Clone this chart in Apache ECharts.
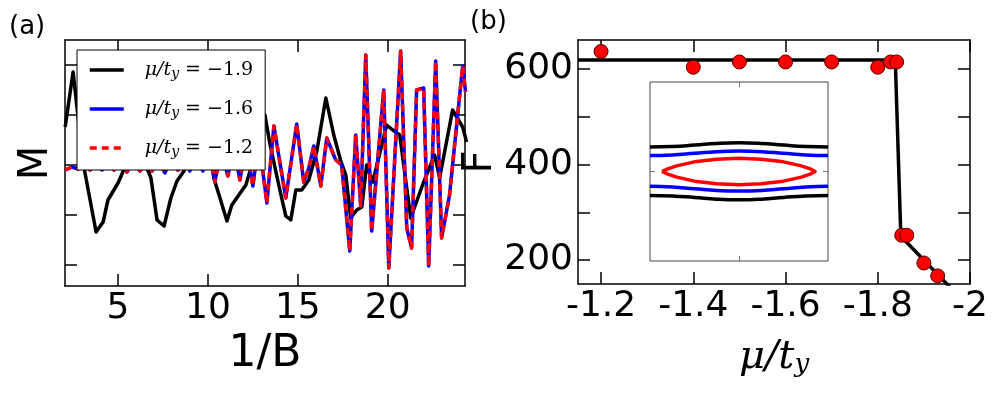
<!DOCTYPE html>
<html>
<head>
<meta charset="utf-8">
<title>M versus 1/B and frequency F versus mu/t_y</title>
<script src="https://cdn.jsdelivr.net/npm/echarts@6.0.0/dist/echarts.min.js"></script>
<style>
  html, body { margin: 0; padding: 0; background: #fff; }
  #chart { width: 1000px; height: 400px; }
</style>
</head>
<body>
<div id="chart"></div>
<script>
// ---- panel (a): oscillations of M against 1/B ----
const invBBlack = [2.06, 2.50, 3.06, 3.78, 4.17, 4.44, 5.00, 5.39, 5.78, 6.17, 6.61, 6.83, 7.17, 7.56,
    7.94, 8.28, 8.67, 9.00, 9.56, 10.11, 10.33, 11.06, 11.33, 11.72, 12.11, 12.39, 12.78, 13.17, 13.44,
    13.94, 14.33, 14.61, 14.89, 15.22, 15.61, 16.06, 16.56, 17.00, 17.39, 17.67, 17.94, 18.28, 18.56,
    18.83, 19.17, 19.94, 20.28, 20.67, 21.28, 22.00, 22.61, 22.89, 23.61, 24.17, 24.39];
const mBlack = [0.76, 1.86, 0.04, -1.34, -1.14, -0.70, -0.36, -0.04, 1.10, 1.80, -0.06, -0.26, -1.10, -1.22,
    -0.66, -0.32, -0.12, 0.70, 1.60, 0.30, -0.26, -1.12, -0.80, -0.60, -0.40, -0.06, 0.80, 1.00, 0.44,
    -0.40, -1.02, -1.10, -0.50, -0.50, -0.30, 0.28, 1.34, 0.60, 0.08, -0.20, -1.06, -0.90, -0.84,
    0.00, -0.34, 0.80, 0.70, 0.60, -1.06, -0.34, 0.20, -0.26, 1.10, 0.76, 0.46];

const invBBlue = [2.06, 2.44, 2.78, 3.11, 3.44, 3.78, 4.11, 4.44, 4.78, 5.11, 5.50, 5.83, 6.22, 6.56, 6.89,
    7.22, 7.61, 7.94, 8.33, 8.67, 9.00, 9.33, 9.72, 10.06, 10.39, 10.72, 11.11, 11.44, 11.78, 12.11, 12.50,
    12.83, 13.28, 13.67, 14.33, 14.94, 15.33, 15.61, 15.89, 16.28, 16.61, 17.11, 17.44, 17.89, 18.22,
    18.50, 18.78, 19.11, 19.78, 20.06, 20.72, 21.06, 21.33, 21.61, 22.00, 22.28, 22.67, 23.00, 23.44,
    24.17, 24.33];
const mBlue = [-0.10, -0.04, -0.08, 0.00, -0.10, 0.02, -0.10, 0.04, -0.10, 0.06, -0.14, 0.08, -0.12, 0.10, -0.12,
    0.12, -0.16, 0.14, -0.10, 0.18, -0.12, 0.20, -0.12, 0.30, -0.34, 0.30, -0.22, 0.34, -0.30, 0.40, -0.42,
    0.50, -0.76, 0.78, -0.66, 0.82, -0.34, -0.06, 0.38, -0.42, 0.54, 0.10, 0.00, -1.72, 0.60,
    -0.82, 2.20, -1.32, 1.50, -2.06, 2.28, -1.26, -1.66, 1.50, 1.54, -2.02, 2.08, -1.46, -0.60,
    1.98, 1.46];
// the -1.2 curve lies on top of the -1.6 one
const mRed = [-0.10, -0.04, -0.08, 0.00, -0.10, 0.02, -0.10, 0.04, -0.10, 0.06, -0.14, 0.08, -0.12, 0.10, -0.12,
    0.12, -0.16, 0.14, -0.10, 0.18, -0.12, 0.20, -0.12, 0.30, -0.34, 0.30, -0.22, 0.34, -0.30, 0.40, -0.42,
    0.50, -0.76, 0.78, -0.66, 0.82, -0.34, -0.06, 0.38, -0.42, 0.54, 0.10, 0.00, -1.72, 0.60,
    -0.82, 2.20, -1.32, 1.50, -2.06, 2.28, -1.26, -1.66, 1.50, 1.54, -2.02, 2.08, -1.46, -0.60,
    1.98, 1.46];

const legendNames = ['μ/t_y = −1.9', 'μ/t_y = −1.6', 'μ/t_y = −1.2'];

// ---- panel (b): frequency F against mu/t_y ----
const muPoints = [-1.2, -1.4, -1.5, -1.6, -1.7, -1.8, -1.828, -1.841, -1.852, -1.863, -1.90, -1.93];
const fPoints = [637, 604, 615, 615, 615, 604, 615, 615, 252, 252, 194, 167];
const muFit = [-1.15, -1.838, -1.85, -1.96];
const fFit = [619, 619, 250, 140];

// ---- inset: Fermi surface contours ----
const insetX = [-1, -0.75, -0.5, -0.25, 0, 0.25, 0.5, 0.75, 1];
const blackTopY = [0.275, 0.28, 0.295, 0.313, 0.32, 0.313, 0.295, 0.28, 0.275];
const blueTopY = [0.178, 0.185, 0.203, 0.222, 0.228, 0.222, 0.203, 0.185, 0.178];
const blueBotY = [-0.166, -0.174, -0.193, -0.211, -0.217, -0.211, -0.193, -0.174, -0.166];
const blackBotY = [-0.267, -0.273, -0.29, -0.309, -0.316, -0.309, -0.29, -0.273, -0.267];
const redX = [-0.865, -0.8, -0.7, -0.5, -0.25, 0, 0.25, 0.5, 0.7, 0.8, 0.855,
    0.8, 0.7, 0.5, 0.25, 0, -0.25, -0.5, -0.7, -0.8, -0.865];
const redY = [0, 0.03, 0.063, 0.108, 0.138, 0.148, 0.138, 0.108, 0.063, 0.03, 0,
    -0.03, -0.063, -0.108, -0.138, -0.148, -0.138, -0.108, -0.063, -0.03, 0];

// ticks and labels
const xTicksA = [5, 10, 15, 20];
const yTicksA = [-2, -1, 0, 1, 2];
const xTicksB = [-2, -1.8, -1.6, -1.4, -1.2];
const yTicksB = [200, 300, 400, 500, 600];
const yLabelsB = [200, 400, 600];

const pairs = (xs, ys) => xs.map((x, i) => [x, ys[i]]);

const labelFont = { fontFamily: 'DejaVu Sans', fontSize: 36, color: '#000' };
const nameFont = { fontFamily: 'DejaVu Sans', fontSize: 40, color: '#000' };

// framed axis with matplotlib style inside ticks
function frameAxis(gridIndex, position, min, max, ticks, labels, more) {
    return Object.assign({
        type: 'value',
        gridIndex: gridIndex,
        position: position,
        min: min,
        max: max,
        axisLine: { show: true, onZero: false, lineStyle: { color: '#000', width: 1.5 } },
        axisTick: { show: true, inside: true, length: 12, customValues: ticks,
            lineStyle: { color: '#000', width: 1.5 } },
        axisLabel: labels ? Object.assign({ show: true, customValues: labels, margin: 5 }, labelFont)
                          : { show: false },
        splitLine: { show: false }
    }, more || {});
}

function insetAxis(position) {
    return {
        type: 'value', gridIndex: 2, position: position, min: -1, max: 1,
        axisLine: { show: false, onZero: false },
        axisTick: { show: true, inside: true, length: 5, customValues: [0],
            lineStyle: { color: '#777', width: 1 } },
        axisLabel: { show: false },
        splitLine: { show: false }
    };
}

function curve(name, xs, ys, color, xi, yi, extra) {
    return Object.assign({
        name: name, type: 'line', xAxisIndex: xi, yAxisIndex: yi,
        data: pairs(xs, ys), symbol: 'none', showSymbol: false,
        lineStyle: { color: color, width: 3.5, join: 'round' },
        itemStyle: { color: color },
        z: 2
    }, extra || {});
}

const chart = echarts.init(document.getElementById('chart'));

const option = {
    animation: false,
    backgroundColor: '#fff',
    grid: [
        { left: 65, top: 40, width: 400, height: 246 },
        { left: 578, top: 40, width: 392, height: 244 },
        { left: 650, top: 82, width: 178, height: 179, show: true,
          backgroundColor: '#fff', borderColor: '#444', borderWidth: 1 }
    ],
    xAxis: [
        frameAxis(0, 'bottom', 2.05, 24.3, xTicksA, xTicksA, {
            name: '1/B', nameLocation: 'middle', nameGap: 47,
            nameTextStyle: { fontFamily: 'DejaVu Sans', fontSize: 44, color: '#000' }
        }),
        frameAxis(0, 'top', 2.05, 24.3, xTicksA, null),
        frameAxis(1, 'bottom', -2, -1.15, xTicksB, xTicksB, {
            inverse: true,
            name: '{i|μ/t}{s|y}', nameLocation: 'middle', nameGap: 54,
            nameTextStyle: {
                fontSize: 40, color: '#000',
                rich: {
                    i: { fontFamily: 'DejaVu Serif', fontStyle: 'italic', fontSize: 40, color: '#000' },
                    s: { fontFamily: 'DejaVu Serif', fontStyle: 'italic', fontSize: 26, color: '#000',
                         verticalAlign: 'bottom' }
                }
            }
        }),
        frameAxis(1, 'top', -2, -1.15, xTicksB, null, { inverse: true }),
        insetAxis('bottom'),
        insetAxis('top')
    ],
    yAxis: [
        frameAxis(0, 'left', -2.42, 2.5, yTicksA, null, {
            name: 'M', nameLocation: 'middle', nameGap: 8, nameRotate: 90, nameTextStyle: nameFont
        }),
        frameAxis(0, 'right', -2.42, 2.5, yTicksA, null),
        frameAxis(1, 'left', 150, 661, yTicksB, yLabelsB, {
            name: 'F', nameLocation: 'middle', nameGap: 69, nameRotate: 90, nameTextStyle: nameFont
        }),
        frameAxis(1, 'right', 150, 661, yTicksB, null),
        insetAxis('left'),
        insetAxis('right')
    ],
    legend: {
        data: legendNames,
        left: 77,
        top: 50,
        orient: 'vertical',
        backgroundColor: '#fff',
        borderColor: '#000',
        borderWidth: 1,
        borderRadius: 0,
        padding: [9, 12, 11, 11],
        itemGap: 17,
        itemWidth: 34,
        itemHeight: 14,
        selectedMode: false,
        // hide the marker circle, keep only the line sample
        itemStyle: { opacity: 0 },
        lineStyle: { width: 3.5 },
        formatter: function (name) {
            const value = name.split('= ')[1];
            return '{i|μ/t}{s|y}{n| = ' + value + '}';
        },
        textStyle: {
            fontSize: 19,
            lineHeight: 22,
            color: '#000',
            rich: {
                i: { fontFamily: 'DejaVu Serif', fontStyle: 'italic', fontSize: 19, lineHeight: 22,
                     color: '#000', padding: [0, 0, 0, 16] },
                s: { fontFamily: 'DejaVu Serif', fontStyle: 'italic', fontSize: 14, lineHeight: 22,
                     color: '#000', verticalAlign: 'bottom' },
                n: { fontFamily: 'DejaVu Serif', fontSize: 19, lineHeight: 22, color: '#000' }
            }
        }
    },
    graphic: [
        { type: 'text', left: 9, top: 14, style: { text: '(a)', font: '26px "DejaVu Sans"', fill: '#000' } },
        { type: 'text', left: 470, top: 9, style: { text: '(b)', font: '26px "DejaVu Sans"', fill: '#000' } }
    ],
    series: [
        curve(legendNames[0], invBBlack, mBlack, '#000000', 0, 0),
        curve(legendNames[1], invBBlue, mBlue, '#0000ff', 0, 0),
        curve(legendNames[2], invBBlue, mRed, '#ff0000', 0, 0, {
            lineStyle: { color: '#ff0000', width: 3.5, type: [7, 5], join: 'round' }
        }),
        curve('fit', muFit, fFit, '#000000', 2, 2),
        {
            name: 'F data', type: 'scatter', xAxisIndex: 2, yAxisIndex: 2,
            data: pairs(muPoints, fPoints), symbolSize: 14,
            itemStyle: { color: '#ff0000', borderColor: '#550000', borderWidth: 1, opacity: 1 },
            z: 3
        },
        curve('black top', insetX, blackTopY, '#000000', 4, 4, { smooth: true }),
        curve('blue top', insetX, blueTopY, '#0000ff', 4, 4, { smooth: true }),
        curve('red pocket', redX, redY, '#ff0000', 4, 4),
        curve('blue bottom', insetX, blueBotY, '#0000ff', 4, 4, { smooth: true }),
        curve('black bottom', insetX, blackBotY, '#000000', 4, 4, { smooth: true })
    ]
};

chart.setOption(option);

window.addEventListener('resize', function () {
    chart.resize();
});
</script>
</body>
</html>
